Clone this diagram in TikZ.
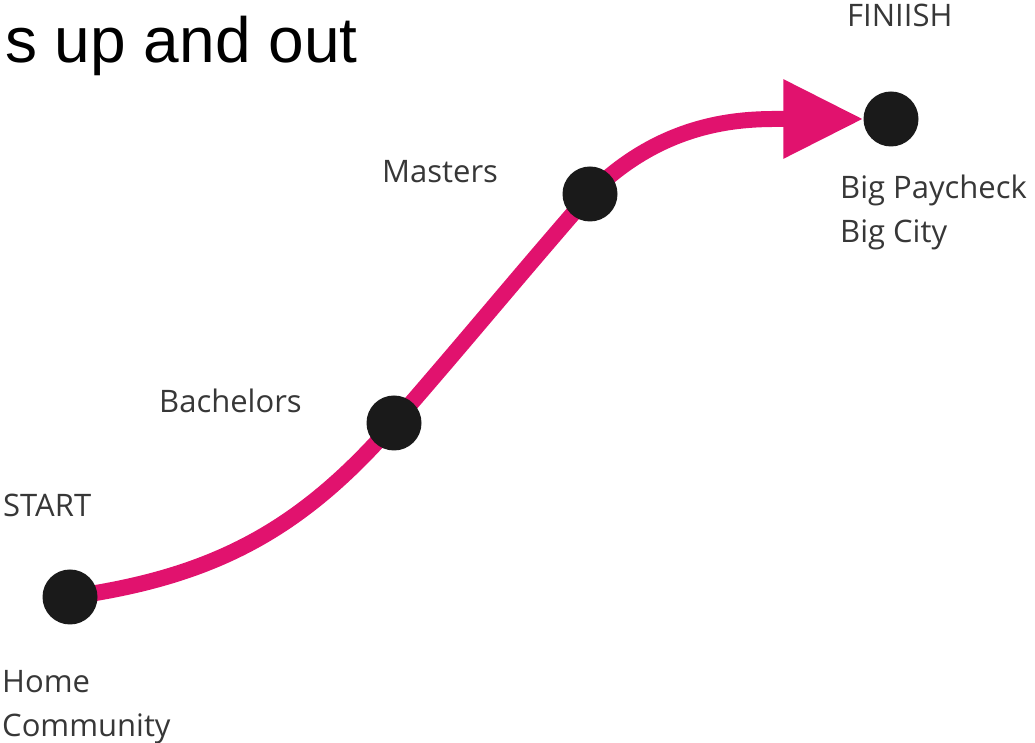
\documentclass[tikz,border=0pt]{standalone}
\usepackage{fontspec}
\setmainfont{Open Sans}
\newfontfamily\titlefont{Liberation Sans}
\usetikzlibrary{arrows.meta,backgrounds}
\definecolor{roadpink}{RGB}{225,18,110}
\definecolor{labelgray}{RGB}{55,55,55}
\definecolor{dotblack}{RGB}{26,26,26}
\tikzset{
  milestone/.style={circle, fill=dotblack, minimum size=55pt, inner sep=0pt},
  stagelabel/.style={anchor=base west, inner sep=0pt, text=labelgray,
    font=\fontsize{31}{44}\selectfont, align=left},
  careerpath/.style={line width=16pt, draw=roadpink,
    -{Triangle[length=80pt,width=75pt]}}
}

\begin{document}
\begin{tikzpicture}[x=1pt,y=1pt]
  \useasboundingbox (0,0) rectangle (1035,743);

  % title line, cut off at the left
  \node[anchor=base west, inner sep=0pt, font=\titlefont\fontsize{64}{70}\selectfont] (title) at (5,680) {s up and out};

  % the four stops
  \node[milestone] (start) at (70,146) {};
  \node[milestone] (bachelors) at (394,320) {};
  \node[milestone] (masters) at (590,549) {};
  \node[milestone] (finish) at (891,624) {};

  % road between the stops, kept behind the dots
  \begin{pgfonlayer}{background}
    \draw[careerpath] (start.center) to[out=8,in=229] (bachelors.center)
      to[out=49,in=229] (masters.center)
      to[out=45,in=180] (finish.west);
  \end{pgfonlayer}

  % labels (base = last line for the two-line ones)
  \node[stagelabel] (startlbl) at (3,226) {START};
  \node[stagelabel] (homelbl) at (2,6) {Home\\Community};
  \node[stagelabel] (bachlbl) at (159,330) {Bachelors};
  \node[stagelabel] (masterlbl) at (382,560) {Masters};
  \node[stagelabel] (finishlbl) at (847,716) {FINIISH};
  \node[stagelabel] (citylbl) at (840,500) {Big Paycheck\\Big City};

\end{tikzpicture}
\end{document}
